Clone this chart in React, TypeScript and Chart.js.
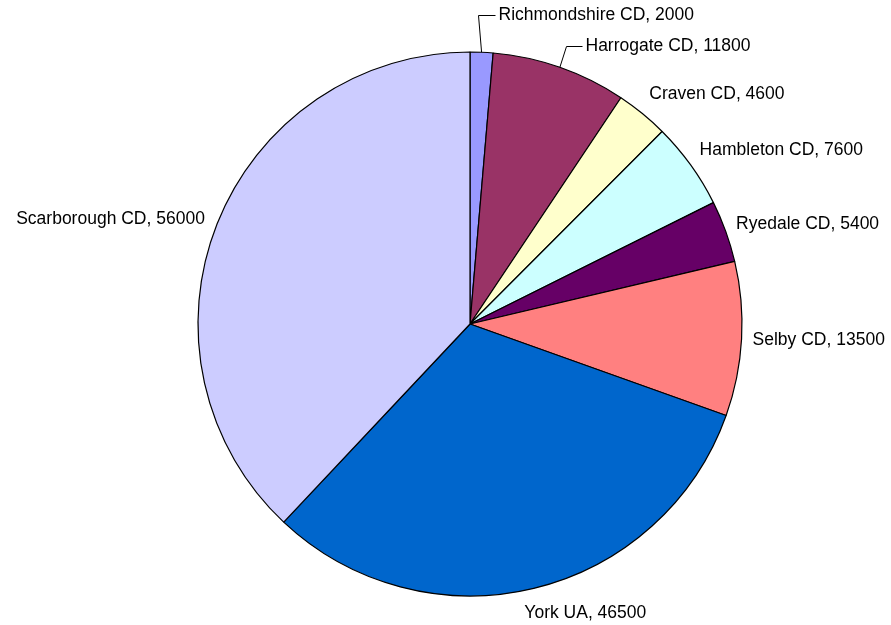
import React, { useEffect, useRef } from 'react';
import { Chart, registerables } from 'chart.js';

Chart.register(...registerables);

const categories = [
  'Richmondshire CD',
  'Harrogate CD',
  'Craven CD',
  'Hambleton CD',
  'Ryedale CD',
  'Selby CD',
  'York UA',
  'Scarborough CD',
];
const values = [2000, 11800, 4600, 7600, 5400, 13500, 46500, 56000];
const sliceColors = [
  '#9999FF',
  '#993366',
  '#FFFFCC',
  '#CCFFFF',
  '#660066',
  '#FF8080',
  '#0066CC',
  '#CCCCFF',
];

// Thin slices at the top get their labels pulled out on an elbow leader line:
// rise = height of the elbow above the rim, lean = sideways shift, run = horizontal leg.
const leaderLabels: Record<number, { rise: number; lean: number; run: number }> = {
  0: { rise: 37, lean: -4, run: 17 },
  1: { rise: 21, lean: 6, run: 16 },
};

// Small hand adjustments of individual labels, in pixels.
const labelNudge: Record<number, [number, number]> = {
  2: [0, 1],
  4: [0, 2],
  6: [-12, -1],
  7: [-2, 5],
};

const LABEL_GAP = 11;
const FONT_SIZE = 17.5;
const FONT = `${FONT_SIZE}px "Liberation Sans", Arial, sans-serif`;

const outsideLabels = {
  id: 'outsideLabels',
  afterDatasetsDraw(chart: any) {
    const ctx: CanvasRenderingContext2D = chart.ctx;
    const meta = chart.getDatasetMeta(0);
    const labels = chart.data.labels as string[];
    const data = chart.data.datasets[0].data as number[];
    ctx.save();
    ctx.font = FONT;
    ctx.fillStyle = '#000';
    ctx.strokeStyle = '#000';
    ctx.lineWidth = 1;
    meta.data.forEach((arc: any, i: number) => {
      const { x, y, startAngle, endAngle, outerRadius } = arc.getProps(
        ['x', 'y', 'startAngle', 'endAngle', 'outerRadius'],
        true
      );
      const mid = (startAngle + endAngle) / 2;
      const dx = Math.cos(mid);
      const dy = Math.sin(mid);
      const text = `${labels[i]}, ${data[i]}`;
      const leader = leaderLabels[i];
      if (leader) {
        const ex = x + dx * outerRadius;
        const ey = y + dy * outerRadius;
        const kx = Math.round(ex + leader.lean) + 0.5;
        const ky = Math.round(ey - leader.rise) + 0.5;
        ctx.beginPath();
        ctx.moveTo(ex, ey);
        ctx.lineTo(kx, ky);
        ctx.lineTo(kx + leader.run, ky);
        ctx.stroke();
        ctx.textAlign = 'left';
        ctx.textBaseline = 'middle';
        ctx.fillText(text, kx + leader.run + 3, ky);
        return;
      }
      const r = outerRadius + LABEL_GAP;
      const [nx, ny] = labelNudge[i] || [0, 0];
      const ax = x + dx * r + nx;
      const ay = y + dy * r + dy * 15 + ny;
      ctx.textAlign = dx >= 0 ? 'left' : 'right';
      ctx.textBaseline = 'middle';
      ctx.fillText(text, ax, ay);
    });
    ctx.restore();
  },
};

export default function App() {
  const canvasRef = useRef<HTMLCanvasElement | null>(null);

  useEffect(() => {
    if (!canvasRef.current) return;
    const chart = new Chart(canvasRef.current, {
      type: 'pie',
      data: {
        labels: categories,
        datasets: [
          {
            data: values,
            backgroundColor: sliceColors,
            borderColor: '#000000',
            borderWidth: 1.2,
            radius: 272,
          },
        ],
      },
      options: {
        responsive: false,
        animation: false,
        devicePixelRatio: 1,
        layout: { padding: { left: 49, right: 0, top: 23, bottom: 0 } },
        plugins: {
          legend: { display: false },
          tooltip: { enabled: false },
        },
      },
      plugins: [outsideLabels],
    });
    return () => chart.destroy();
  }, []);

  return (
    <div
      style={{
        position: 'absolute',
        left: 0,
        top: 0,
        width: 891,
        height: 625,
        background: '#ffffff',
      }}
    >
      <canvas ref={canvasRef} width={891} height={625} />
    </div>
  );
}
